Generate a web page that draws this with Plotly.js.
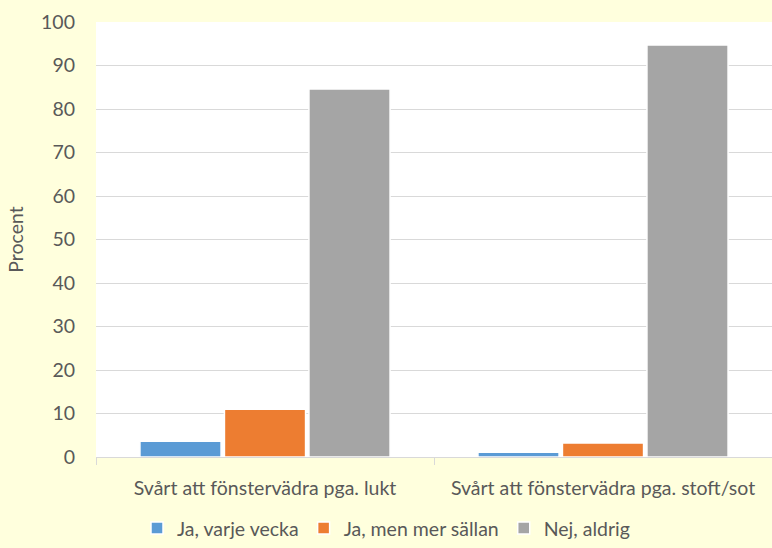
<!DOCTYPE html>
<html>
<head>
<meta charset="utf-8">
<script src="https://cdn.plot.ly/plotly-3.0.1.min.js"></script>
<style>
  body { margin: 0; background: #FFFFDD; }
  #chart { width: 772px; height: 548px; }
</style>
</head>
<body>
<div id="chart"></div>
<script>
const categories = ['Svårt att fönstervädra pga. lukt', 'Svårt att fönstervädra pga. stoft/sot'];
const seriesNames = ['Ja, varje vecka', 'Ja, men mer sällan', 'Nej, aldrig'];
const weekly = [3.6, 1.1];
const lessOften = [11.0, 3.2];
const never = [84.6, 94.7];
const colors = ['#5B9BD5', '#ED7D31', '#A5A5A5'];

const font = { family: 'Lato, "Open Sans", sans-serif', size: 19.5, color: '#595959' };

const traces = [weekly, lessOften, never].map((vals, i) => ({
    type: 'bar',
    name: seriesNames[i],
    x: categories,
    y: vals,
    marker: { color: colors[i], line: { color: '#FFFFFF', width: 1.5 } },
    hoverinfo: 'skip'
}));

Plotly.newPlot('chart', traces, {
    width: 772,
    height: 548,
    paper_bgcolor: '#FFFFDD',
    plot_bgcolor: '#FFFFFF',
    font: font,
    margin: { l: 96, r: 0, t: 22, b: 91 },
    barmode: 'group',
    bargap: 0.25,
    bargroupgap: 0.04,
    xaxis: {
        type: 'category',
        showline: true,
        linecolor: '#D9D9D9',
        linewidth: 1,
        ticks: 'outside',
        tickson: 'boundaries',
        ticklen: 7,
        tickcolor: '#D9D9D9',
        tickfont: font,
        ticklabelstandoff: 14
    },
    yaxis: {
        range: [0, 100],
        dtick: 10,
        showgrid: true,
        gridcolor: '#D9D9D9',
        gridwidth: 1,
        zeroline: false,
        ticks: '',
        ticklabelstandoff: 20,
        tickfont: font,
        title: { text: 'Procent', font: font, standoff: 12 }
    },
    showlegend: true,
    legend: {
        orientation: 'h',
        xref: 'container',
        yref: 'container',
        x: 0.5,
        xanchor: 'center',
        y: 0.036,
        yanchor: 'middle',
        font: font,
        itemwidth: 30,
        traceorder: 'normal'
    }
}, { displayModeBar: false, staticPlot: true });
</script>
</body>
</html>
